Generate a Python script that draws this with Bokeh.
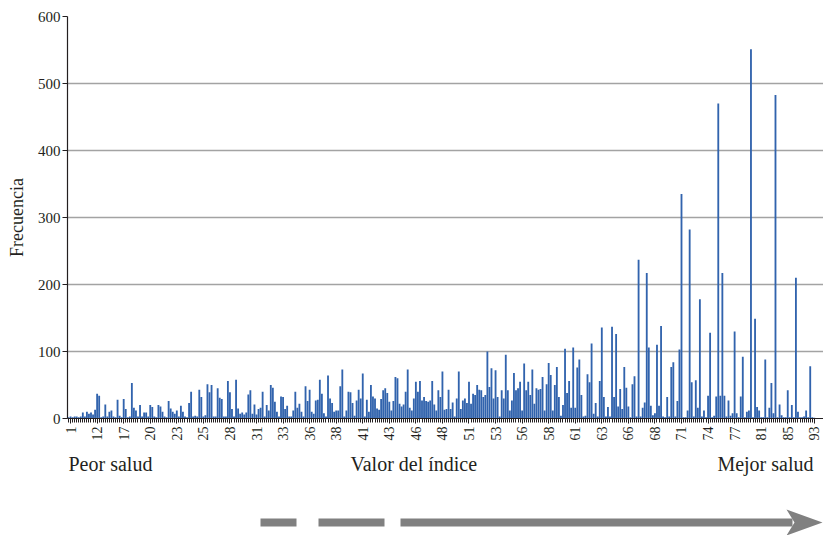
from math import pi
from bokeh.plotting import figure
from bokeh.layouts import column
from bokeh.models import Range1d, FixedTicker, ColumnDataSource
from bokeh.embed import file_html
from bokeh.resources import INLINE
from bokeh.core.properties import value

# ---------------- data ----------------
tick_labels = ["1", "12", "17", "20", "23", "25", "28", "31", "33", "36", "38", "41",
               "43", "46", "48", "51", "53", "56", "58", "61", "63", "66", "68", "71",
               "74", "77", "81", "85", "93"]

freq_low = [2, 3, 2, 3, 3, 2, 3, 9, 3, 10, 7, 9, 6, 13, 37, 34, 2, 3, 21, 3,
            10, 12, 3, 2, 28, 4, 2, 29, 14, 2, 3, 53, 16, 12, 3, 20, 3, 9, 9, 3,
            20, 17, 3, 2, 20, 18, 10, 3, 2, 26, 15, 10, 7, 12, 3, 19, 10, 3, 2, 23,
            40, 3, 4, 3, 43, 32, 3, 5, 51, 39, 50, 3, 3, 45, 31, 29, 3, 3, 56, 39,
            14, 3, 58, 15, 7, 9, 6, 9, 36, 42, 7, 21, 6, 14, 16, 40, 3, 20, 12, 50,
            46, 25, 10, 3, 33, 32, 14, 19, 3, 3, 12, 40]

freq_mid = [16, 22, 10, 3, 48, 26, 43, 10, 7, 27,
            28, 58, 37, 8, 3, 64, 30, 23, 10, 12,
            12, 48, 73, 3, 12, 40, 39, 23, 4,
            27, 43, 30, 67, 3, 28, 10, 50, 33,
            30, 15, 13, 29, 42, 45, 38, 25, 12, 26,
            62, 60, 22, 18, 21, 40, 73, 16, 12, 30,
            55, 40, 56, 27, 32, 26, 25, 27, 56, 21,
            12, 42, 32, 70, 13, 14, 43, 14, 24,
            3, 30, 70, 14, 27, 30, 23, 55, 22, 37,
            35, 50, 43, 42, 32, 35, 100, 47, 75, 30,
            72, 32, 3, 42, 30, 95, 42, 12, 27, 68,
            42, 45, 55, 12, 82, 42, 55, 35, 73, 22,
            45]

freq_upper = [43, 44, 62, 12, 51, 83, 65, 12, 50, 77,
              32, 4, 20, 104, 38, 56, 16, 106, 16, 76,
              88, 35, 3, 4, 66, 54, 112, 7, 23, 3,
              56, 136, 32, 3, 17, 3, 137, 32, 126, 18,
              44, 14, 77, 46, 18, 2, 51, 63, 3]

freq_high = [237, 3, 16, 24, 217, 106, 19, 5, 8, 110,
             19, 138, 3, 2, 32, 3, 77, 84, 3, 26,
             103, 335, 2, 2, 12, 282, 54, 3, 57, 16,
             178, 3, 12, 2, 34, 128, 2, 4, 33, 470,
             34, 217, 34, 3, 27, 4, 8, 130, 8, 2,
             33, 92, 2, 10, 12, 551, 2, 149, 17, 12,
             2, 2, 88, 2, 16, 53, 8, 483, 2, 21,
             5, 2, 2, 42, 2, 20, 2, 210, 10, 2,
             2, 3, 12, 2, 78, 2, 1]

freq = freq_low + freq_mid + freq_upper + freq_high
n = len(freq)
idx = list(range(n))
tick_pos = [1 + 13 * k for k in range(len(tick_labels))]

FONT = "Liberation Serif"
INK = "#231f20"
BAR = "#3163ad"
W = 823
LEFT = 67

src = ColumnDataSource(dict(x=idx, y=freq))

p = figure(width=W, height=448, output_backend="svg", toolbar_location=None,
           x_range=Range1d(-0.5, n + 3.5), y_range=Range1d(0, 600),
           min_border_left=LEFT, min_border_right=0, min_border_top=16,
           min_border_bottom=30)
p.outline_line_color = None
p.background_fill_color = "white"
p.border_fill_color = "white"

p.vbar(x="x", top="y", width=0.9, source=src, fill_color=BAR, line_color=None)

p.xgrid.visible = False
p.ygrid.grid_line_color = "#a3a3a3"
p.ygrid.grid_line_width = 1.3

p.xaxis.ticker = FixedTicker(ticks=tick_pos, minor_ticks=idx)
p.xaxis.major_label_overrides = dict(zip(tick_pos, tick_labels))
p.xaxis.major_label_orientation = pi / 2
p.xaxis.major_tick_out = 5
p.xaxis.major_tick_in = 0
p.xaxis.minor_tick_out = 4
p.xaxis.minor_tick_in = 0
p.xaxis.major_label_standoff = 3

p.yaxis.ticker = FixedTicker(ticks=list(range(0, 601, 100)))
p.yaxis.major_tick_out = 5
p.yaxis.major_tick_in = 0
p.yaxis.major_label_standoff = 2
p.yaxis.axis_label = "Frecuencia"
p.yaxis.axis_label_standoff = 8
p.yaxis.axis_label_text_font = FONT
p.yaxis.axis_label_text_font_style = "normal"
p.yaxis.axis_label_text_font_size = "18px"
p.yaxis.axis_label_text_color = INK

for ax in (p.xaxis, p.yaxis):
    ax.axis_line_color = INK
    ax.axis_line_width = 1.2
    ax.major_tick_line_color = INK
    ax.minor_tick_line_color = INK
    ax.major_label_text_font = FONT
    ax.major_label_text_font_style = "normal"
    ax.major_label_text_color = INK
p.yaxis.minor_tick_line_color = None
p.xaxis.major_label_text_font_size = "14px"
p.yaxis.major_label_text_font_size = "15px"

# ---------------- captions and arrow below the chart ----------------
# this figure's frame is aligned with the chart frame, so its x range is in page pixels
p2 = figure(width=W, height=87, output_backend="svg", toolbar_location=None,
            x_range=Range1d(LEFT, W), y_range=Range1d(87, 0), min_border=0,
            x_axis_location=None, y_axis_location=None)
p2.outline_line_color = None
p2.grid.visible = False
p2.background_fill_color = "white"
p2.border_fill_color = "white"

cap_kw = dict(text_font=value(FONT), text_font_size="20px", text_color=INK,
              text_baseline="middle")
p2.text(x=[68], y=[15], text=["Peor salud"], text_align="left", **cap_kw)
p2.text(x=[350], y=[15], text=["Valor del índice"], text_align="left", **cap_kw)
p2.text(x=[813], y=[15], text=["Mejor salud"], text_align="right", **cap_kw)

GREY = "#808080"
p2.quad(left=[260, 318, 400], right=[296, 384, 792], top=[70, 70, 70],
        bottom=[78, 78, 78], fill_color=GREY, line_color=None)
p2.patch(x=[786, 822, 786, 794], y=[61, 74, 87, 74], fill_color=GREY, line_color=None)

layout = column(p, p2, spacing=0)
open("out.html", "w").write(file_html(layout, INLINE))
